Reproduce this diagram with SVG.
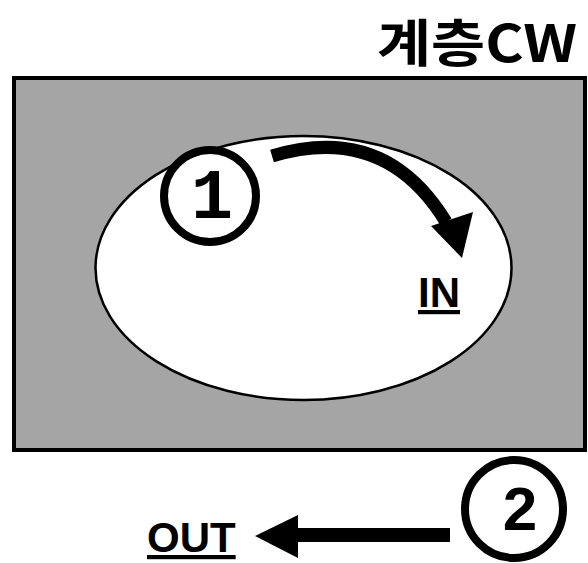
<svg xmlns="http://www.w3.org/2000/svg" width="588" height="563" viewBox="0 0 588 563">
<style>
.lbl{font-family:"Liberation Sans",Arial,sans-serif;font-weight:bold;font-size:42px;fill:#000;text-decoration:underline}
.ring{fill:none;stroke:#000;stroke-width:8}
</style>
<rect width="588" height="563" fill="#fff"/>
<g id="title"><text x="377" y="62" textLength="200" lengthAdjust="spacingAndGlyphs" font-family="'Noto Sans CJK KR','Liberation Sans',sans-serif" font-weight="bold" font-size="51">계층CW</text></g>
<g id="layer"><rect x="14" y="78" width="571" height="372" fill="#a5a5a5" stroke="#000" stroke-width="4"/></g>
<g id="region"><ellipse cx="303.5" cy="268" rx="208" ry="132" fill="#fff" stroke="#000" stroke-width="2.5"/></g>
<g id="step1"><circle cx="210" cy="196" r="46" class="ring"/><text x="212" y="218" text-anchor="middle" font-family="'Liberation Mono',monospace" font-weight="bold" font-size="70">1</text></g>
<g id="step2"><circle cx="514" cy="509" r="49" class="ring"/><text x="520" y="530" text-anchor="middle" font-family="'Liberation Sans',Arial,sans-serif" font-weight="bold" font-size="62">2</text></g>
<g id="in"><text x="418" y="307" class="lbl">IN</text></g>
<g id="out"><text x="147" y="552" class="lbl">OUT</text></g>
<g id="connectors">
<path d="M272,156 Q385,122 446,222" fill="none" stroke="#000" stroke-width="13"/>
<polygon points="431,226 473,212 462,258" fill="#000"/>
<rect x="296" y="528" width="154" height="14" fill="#000"/>
<polygon points="298,515 298,558 255,536" fill="#000"/>
</g>
</svg>
